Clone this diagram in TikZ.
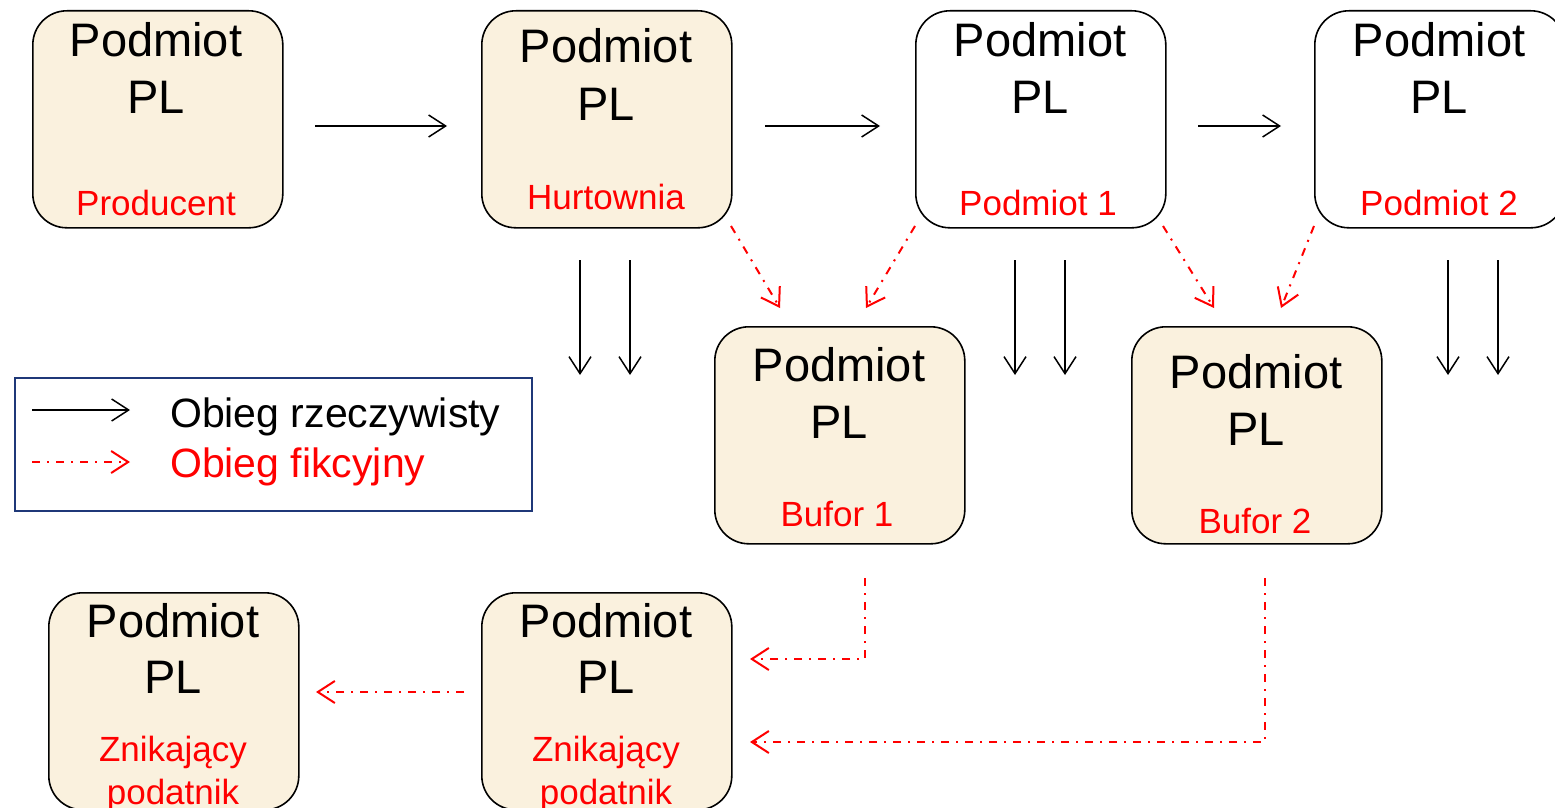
\documentclass[tikz,border=0pt]{standalone}
\usepackage{fontspec}
\setmainfont{Liberation Sans}
\usetikzlibrary{arrows.meta,calc}
\definecolor{parch}{RGB}{250,241,222}
\definecolor{legendblue}{RGB}{31,56,120}
\definecolor{fred}{RGB}{255,0,0}
\begin{document}
\begin{tikzpicture}[x=1pt,y=-1pt,
  entity/.style={draw=black,line width=1.6pt,rounded corners=34pt,
    minimum width=250pt,minimum height=217pt,inner sep=0pt,anchor=north west},
  shaded/.style={entity,fill=parch},
  plain/.style={entity,fill=white},
  title/.style={anchor=base,font=\fontsize{47}{56}\selectfont,inner sep=0pt},
  role/.style={anchor=base,font=\fontsize{35}{42}\selectfont,text=fred,inner sep=0pt},
  legtext/.style={anchor=base west,font=\fontsize{41}{49}\selectfont,inner sep=0pt},
  real/.style={draw=black,line width=1.5pt,
    -{Straight Barb[length=17pt,width=22pt,line width=1.5pt]}},
  fict/.style={draw=fred,line width=2pt,dash pattern=on 8pt off 7pt on 2pt off 7pt,
    -{Straight Barb[length=17pt,width=22pt,line width=2pt]}}]
\useasboundingbox (0,0) rectangle (1555,808);

% entities
\node[shaded] (prod) at (32,10) {};
\node[shaded] (hurt) at (481,10) {};
\node[plain]  (pod1) at (915,10) {};
\node[plain]  (pod2) at (1314,10) {};
\node[shaded] (buf1) at (714,326) {};
\node[shaded] (buf2) at (1131,326) {};
\node[shaded] (zn1)  at (48,592) {};
\node[shaded] (zn2)  at (481,592) {};

% texts inside the entities
\node[title] (prodA) at (156,57)  {Podmiot};
\node[title] (prodB) at (156,113) {PL};
\node[role]  (prodC) at (156,215) {Producent};

\node[title] (hurtA) at (606,63)  {Podmiot};
\node[title] (hurtB) at (606,120) {PL};
\node[role]  (hurtC) at (606,209) {Hurtownia};

\node[title] (pod1A) at (1040,57)  {Podmiot};
\node[title] (pod1B) at (1040,113) {PL};
\node[role]  (pod1C) at (1038,215) {Podmiot 1};

\node[title] (pod2A) at (1439,57)  {Podmiot};
\node[title] (pod2B) at (1439,113) {PL};
\node[role]  (pod2C) at (1439,215) {Podmiot 2};

\node[title] (buf1A) at (839,381) {Podmiot};
\node[title] (buf1B) at (839,438) {PL};
\node[role]  (buf1C) at (837,526) {Bufor 1};

\node[title] (buf2A) at (1256,388) {Podmiot};
\node[title] (buf2B) at (1256,445) {PL};
\node[role]  (buf2C) at (1255,533) {Bufor 2};

\node[title] (zn1A) at (173,637) {Podmiot};
\node[title] (zn1B) at (173,693) {PL};
\node[role]  (zn1C) at (173,761) {Znikający};
\node[role]  (zn1D) at (173,804) {podatnik};

\node[title] (zn2A) at (606,637) {Podmiot};
\node[title] (zn2B) at (606,693) {PL};
\node[role]  (zn2C) at (606,761) {Znikający};
\node[role]  (zn2D) at (606,804) {podatnik};

% legend
\node[draw=legendblue,line width=1.6pt,minimum width=517pt,minimum height=133pt,
  inner sep=0pt,anchor=north west] (legend) at (14,377) {};
\coordinate (lgA1) at (32,410);  \coordinate (lgA2) at (130,410);
\coordinate (lgB1) at (32,462);  \coordinate (lgB2) at (130,462);
\draw[real] (lgA1) -- (lgA2);
\draw[fict] (lgB1) -- (lgB2);
\node[legtext] (lgA) at (170,427) {Obieg rzeczywisty};
\node[legtext,text=fred] (lgB) at (170,477) {Obieg fikcyjny};

% real flow along the top row
\coordinate (h1a) at (315,126);  \coordinate (h1b) at (447,126);
\coordinate (h2a) at (765,126);  \coordinate (h2b) at (880,126);
\coordinate (h3a) at (1198,126); \coordinate (h3b) at (1281,126);
\draw[real] (h1a) -- (h1b);
\draw[real] (h2a) -- (h2b);
\draw[real] (h3a) -- (h3b);

% real flow downwards
\foreach \x/\n in {580/v1,630/v2,1015/v3,1065/v4,1448/v5,1498/v6}{
  \coordinate (\n a) at (\x,260);
  \coordinate (\n b) at (\x,375);
  \draw[real] (\n a) -- (\n b);
}

% fictitious flow into the buffers
\coordinate (d1a) at (731,226);  \coordinate (d1b) at (780,308);
\coordinate (d2a) at (915,226);  \coordinate (d2b) at (866,308);
\coordinate (d3a) at (1163,226); \coordinate (d3b) at (1214,308);
\coordinate (d4a) at (1314,226); \coordinate (d4b) at (1281,308);
\draw[fict] (d1a) -- (d1b);
\draw[fict] (d2a) -- (d2b);
\draw[fict] (d3a) -- (d3b);
\draw[fict] (d4a) -- (d4b);

% fictitious flow out of the buffers
\coordinate (b1a) at (865,578);  \coordinate (b1b) at (750,659);
\coordinate (b2a) at (1265,578); \coordinate (b2b) at (750,742);
\draw[fict] (b1a) |- (b1b);
\draw[fict] (b2a) |- (b2b);
\coordinate (z1a) at (464,692);  \coordinate (z1b) at (316,692);
\draw[fict] (z1a) -- (z1b);
\end{tikzpicture}
\end{document}
